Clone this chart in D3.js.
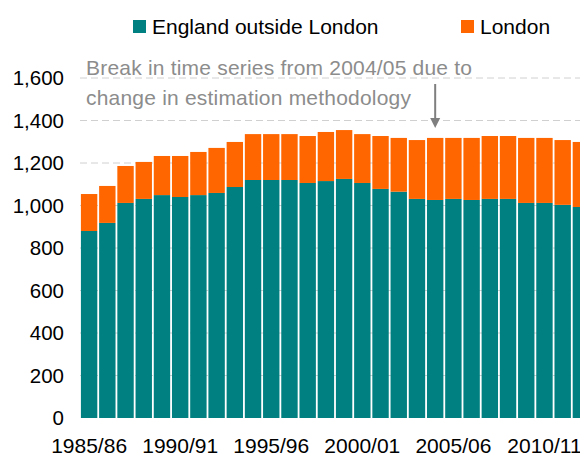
<!DOCTYPE html>
<html>
<head>
<meta charset="utf-8">
<script src="https://cdn.jsdelivr.net/npm/d3@7"></script>
<style>
  body { margin: 0; background: #fff; }
  svg { font-family: "Liberation Sans", Arial, sans-serif; }
</style>
</head>
<body>
<div id="chart"></div>
<script>
// years shown as bars
var years = ["1985/86","1986/87","1987/88","1988/89","1989/90","1990/91","1991/92","1992/93",
  "1993/94","1994/95","1995/96","1996/97","1997/98","1998/99","1999/00","2000/01","2001/02",
  "2002/03","2003/04","2004/05","2005/06","2006/07","2007/08","2008/09","2009/10","2010/11",
  "2011/12","2012/13"];
var england = [880,918,1012,1031,1049,1040,1049,1059,1087,1120,1120,1120,1106,1115,1125,
  1106,1078,1065,1031,1026,1031,1026,1031,1031,1012,1012,1003,993];
var london = [174,174,174,174,184,193,203,212,212,216,216,216,221,231,230,230,249,253,277,
  292,287,292,296,296,306,306,305,306];
var xTickLabels = ["1985/86","1990/91","1995/96","2000/01","2005/06","2010/11"];
var yTicks = [0,200,400,600,800,1000,1200,1400,1600];
var seriesNames = ["England outside London","London"];
var colors = {"England outside London": "#008080", "London": "#FF6600"};

var width = 580, height = 458;

var svg = d3.select("#chart").append("svg")
  .attr("width", width)
  .attr("height", height);

var x = d3.scaleBand()
  .domain(years)
  .range([80, 590])
  .paddingInner(0.1)
  .paddingOuter(0.05);

var y = d3.scaleLinear()
  .domain([0, 1600])
  .range([418, 78]);

// gridlines
svg.append("g").selectAll("line")
  .data(yTicks.filter(d => d > 0))
  .enter().append("line")
    .attr("x1", 80).attr("x2", width)
    .attr("y1", d => y(d)).attr("y2", d => y(d))
    .attr("stroke", "#d0d0d0")
    .attr("stroke-width", 1)
    .attr("stroke-dasharray", "7,4");

var rows = years.map((yr, i) => ({year: yr, "England outside London": england[i], "London": london[i]}));
var stacked = d3.stack().keys(seriesNames)(rows);

svg.append("g").selectAll("g")
  .data(stacked)
  .enter().append("g")
    .attr("fill", d => colors[d.key])
  .selectAll("rect")
  .data(d => d)
  .enter().append("rect")
    .attr("x", d => x(d.data.year))
    .attr("width", x.bandwidth())
    .attr("y", d => y(d[1]))
    .attr("height", d => y(d[0]) - y(d[1]));

// y axis labels
var yAxis = svg.append("g")
  .attr("transform", "translate(64,0)")
  .call(d3.axisLeft(y).tickValues(yTicks).tickSize(0).tickPadding(0).tickFormat(d3.format(",")));
yAxis.select(".domain").remove();
yAxis.selectAll("text")
  .attr("font-size", 20.5)
  .attr("font-family", "Liberation Sans, Arial, sans-serif")
  .attr("fill", "#000");

// x axis labels
var xAxis = svg.append("g")
  .attr("transform", "translate(0,418)")
  .call(d3.axisBottom(x).tickValues(xTickLabels).tickSize(0).tickPadding(20));
xAxis.select(".domain").remove();
xAxis.selectAll("text")
  .attr("font-size", 21)
  .attr("font-family", "Liberation Sans, Arial, sans-serif")
  .attr("fill", "#000");

// legend
var legend = svg.append("g");
var legendPos = [{x: 133, name: seriesNames[0]}, {x: 461, name: seriesNames[1]}];
legendPos.forEach(function(l) {
  legend.append("rect")
    .attr("x", l.x).attr("y", 20)
    .attr("width", 13).attr("height", 13)
    .attr("fill", colors[l.name]);
  legend.append("text")
    .attr("x", l.x + 19).attr("y", 27)
    .attr("dy", "0.35em")
    .attr("font-size", 21)
    .attr("fill", "#000")
    .text(l.name);
});

// annotation
var note = svg.append("g").attr("fill", "#8c8c8c").attr("font-size", 21)
  .attr("letter-spacing", 0.2);
note.append("text").attr("x", 86).attr("y", 68).attr("dy", "0.35em")
  .text("Break in time series from 2004/05 due to");
note.append("text").attr("x", 86).attr("y", 98).attr("dy", "0.35em")
  .text("change in estimation methodology");

var ax = x("2004/05") + x.bandwidth() / 2;
svg.append("line")
  .attr("x1", ax).attr("x2", ax)
  .attr("y1", 84).attr("y2", 120)
  .attr("stroke", "#7f7f7f")
  .attr("stroke-width", 2);
svg.append("path")
  .attr("d", `M${ax - 5},118 L${ax + 5},118 L${ax},128 Z`)
  .attr("fill", "#7f7f7f");
</script>
</body>
</html>
